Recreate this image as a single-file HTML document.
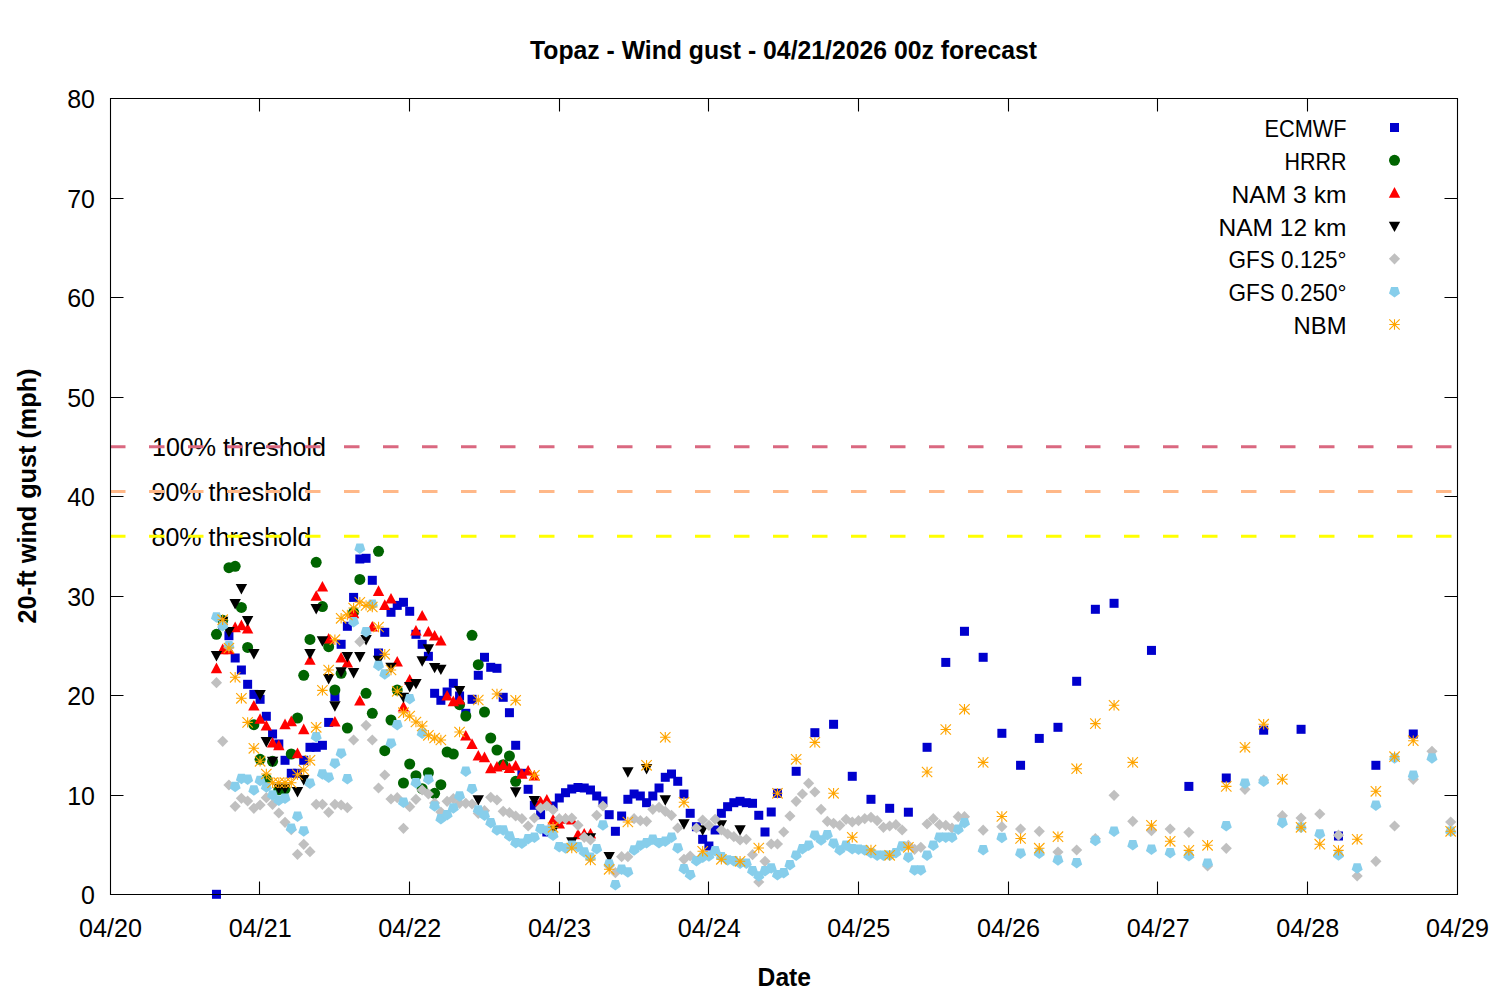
<!DOCTYPE html><html><head><meta charset="utf-8"><style>html,body{margin:0;padding:0;background:#fff;}svg{display:block;}text{font-family:"Liberation Sans",sans-serif;}</style></head><body>
<svg width="1500" height="1000" viewBox="0 0 1500 1000">
<rect width="1500" height="1000" fill="#fff"/>
<g font-size="25" fill="#000">
<text x="95" y="904.3" text-anchor="end">0</text>
<text x="95" y="804.8" text-anchor="end">10</text>
<text x="95" y="705.3" text-anchor="end">20</text>
<text x="95" y="605.8" text-anchor="end">30</text>
<text x="95" y="506.3" text-anchor="end">40</text>
<text x="95" y="406.8" text-anchor="end">50</text>
<text x="95" y="307.3" text-anchor="end">60</text>
<text x="95" y="207.8" text-anchor="end">70</text>
<text x="95" y="108.3" text-anchor="end">80</text>
<text x="110.5" y="937.3" text-anchor="middle" textLength="63" lengthAdjust="spacingAndGlyphs">04/20</text>
<text x="260.2" y="937.3" text-anchor="middle" textLength="63" lengthAdjust="spacingAndGlyphs">04/21</text>
<text x="409.8" y="937.3" text-anchor="middle" textLength="63" lengthAdjust="spacingAndGlyphs">04/22</text>
<text x="559.5" y="937.3" text-anchor="middle" textLength="63" lengthAdjust="spacingAndGlyphs">04/23</text>
<text x="709.2" y="937.3" text-anchor="middle" textLength="63" lengthAdjust="spacingAndGlyphs">04/24</text>
<text x="858.8" y="937.3" text-anchor="middle" textLength="63" lengthAdjust="spacingAndGlyphs">04/25</text>
<text x="1008.5" y="937.3" text-anchor="middle" textLength="63" lengthAdjust="spacingAndGlyphs">04/26</text>
<text x="1158.2" y="937.3" text-anchor="middle" textLength="63" lengthAdjust="spacingAndGlyphs">04/27</text>
<text x="1307.8" y="937.3" text-anchor="middle" textLength="63" lengthAdjust="spacingAndGlyphs">04/28</text>
<text x="1457.5" y="937.3" text-anchor="middle" textLength="63" lengthAdjust="spacingAndGlyphs">04/29</text>
</g>
<text x="783.5" y="58.6" font-size="25" font-weight="bold" text-anchor="middle" textLength="507" lengthAdjust="spacingAndGlyphs">Topaz - Wind gust - 04/21/2026 00z forecast</text>
<text x="784.3" y="985.6" font-size="25" font-weight="bold" text-anchor="middle" textLength="53.4" lengthAdjust="spacingAndGlyphs">Date</text>
<text transform="translate(36,496) rotate(-90)" x="0" y="0" font-size="25" font-weight="bold" text-anchor="middle" textLength="255" lengthAdjust="spacingAndGlyphs">20-ft wind gust (mph)</text>
<g font-size="25" fill="#000">
<text x="152" y="455.8" textLength="174" lengthAdjust="spacingAndGlyphs">100% threshold</text>
<text x="151.5" y="500.6" textLength="160" lengthAdjust="spacingAndGlyphs">90% threshold</text>
<text x="151.5" y="545.6" textLength="160" lengthAdjust="spacingAndGlyphs">80% threshold</text>
</g>
<line x1="110" y1="446.75" x2="1457" y2="446.75" stroke="#da6880" stroke-width="3" stroke-dasharray="15.5 23.5"/>
<line x1="110" y1="491.53" x2="1457" y2="491.53" stroke="#ffb888" stroke-width="3" stroke-dasharray="15.5 23.5"/>
<line x1="110" y1="536.30" x2="1457" y2="536.30" stroke="#ffff00" stroke-width="3" stroke-dasharray="15.5 23.5"/>
<g fill="#0000cd">
<rect x="211.97" y="889.80" width="9" height="9"/>
<rect x="218.20" y="620.50" width="9" height="9"/>
<rect x="224.43" y="631.20" width="9" height="9"/>
<rect x="230.67" y="653.50" width="9" height="9"/>
<rect x="236.90" y="665.50" width="9" height="9"/>
<rect x="243.13" y="679.80" width="9" height="9"/>
<rect x="249.37" y="689.90" width="9" height="9"/>
<rect x="255.60" y="694.80" width="9" height="9"/>
<rect x="261.83" y="711.80" width="9" height="9"/>
<rect x="268.07" y="729.50" width="9" height="9"/>
<rect x="274.30" y="739.50" width="9" height="9"/>
<rect x="280.53" y="755.80" width="9" height="9"/>
<rect x="286.77" y="768.80" width="9" height="9"/>
<rect x="293.00" y="768.80" width="9" height="9"/>
<rect x="299.23" y="755.80" width="9" height="9"/>
<rect x="305.47" y="742.80" width="9" height="9"/>
<rect x="311.70" y="742.80" width="9" height="9"/>
<rect x="317.93" y="740.80" width="9" height="9"/>
<rect x="324.17" y="717.90" width="9" height="9"/>
<rect x="330.40" y="692.20" width="9" height="9"/>
<rect x="336.63" y="639.80" width="9" height="9"/>
<rect x="342.87" y="621.80" width="9" height="9"/>
<rect x="349.10" y="592.90" width="9" height="9"/>
<rect x="355.33" y="554.50" width="9" height="9"/>
<rect x="361.57" y="553.80" width="9" height="9"/>
<rect x="367.80" y="575.80" width="9" height="9"/>
<rect x="374.03" y="648.50" width="9" height="9"/>
<rect x="380.27" y="627.80" width="9" height="9"/>
<rect x="386.50" y="607.80" width="9" height="9"/>
<rect x="392.73" y="600.90" width="9" height="9"/>
<rect x="398.97" y="597.80" width="9" height="9"/>
<rect x="405.20" y="606.80" width="9" height="9"/>
<rect x="411.43" y="629.80" width="9" height="9"/>
<rect x="417.67" y="639.80" width="9" height="9"/>
<rect x="423.90" y="651.80" width="9" height="9"/>
<rect x="430.13" y="688.80" width="9" height="9"/>
<rect x="436.37" y="695.80" width="9" height="9"/>
<rect x="442.60" y="687.50" width="9" height="9"/>
<rect x="448.83" y="678.80" width="9" height="9"/>
<rect x="455.07" y="691.50" width="9" height="9"/>
<rect x="461.30" y="708.80" width="9" height="9"/>
<rect x="467.53" y="694.80" width="9" height="9"/>
<rect x="473.77" y="670.80" width="9" height="9"/>
<rect x="480.00" y="652.80" width="9" height="9"/>
<rect x="486.23" y="662.80" width="9" height="9"/>
<rect x="492.47" y="663.80" width="9" height="9"/>
<rect x="498.70" y="692.80" width="9" height="9"/>
<rect x="504.93" y="708.20" width="9" height="9"/>
<rect x="511.17" y="740.80" width="9" height="9"/>
<rect x="517.40" y="768.80" width="9" height="9"/>
<rect x="523.63" y="784.80" width="9" height="9"/>
<rect x="529.87" y="800.80" width="9" height="9"/>
<rect x="536.10" y="810.20" width="9" height="9"/>
<rect x="542.33" y="827.50" width="9" height="9"/>
<rect x="548.57" y="801.50" width="9" height="9"/>
<rect x="554.80" y="793.50" width="9" height="9"/>
<rect x="561.03" y="788.20" width="9" height="9"/>
<rect x="567.27" y="784.50" width="9" height="9"/>
<rect x="573.50" y="783.00" width="9" height="9"/>
<rect x="579.73" y="783.50" width="9" height="9"/>
<rect x="585.97" y="785.50" width="9" height="9"/>
<rect x="592.20" y="791.50" width="9" height="9"/>
<rect x="598.43" y="796.50" width="9" height="9"/>
<rect x="604.67" y="810.20" width="9" height="9"/>
<rect x="610.90" y="826.80" width="9" height="9"/>
<rect x="617.13" y="811.50" width="9" height="9"/>
<rect x="623.37" y="794.80" width="9" height="9"/>
<rect x="629.60" y="789.50" width="9" height="9"/>
<rect x="635.83" y="791.50" width="9" height="9"/>
<rect x="642.07" y="798.20" width="9" height="9"/>
<rect x="648.30" y="791.50" width="9" height="9"/>
<rect x="654.53" y="783.50" width="9" height="9"/>
<rect x="660.77" y="772.80" width="9" height="9"/>
<rect x="667.00" y="769.50" width="9" height="9"/>
<rect x="673.23" y="776.80" width="9" height="9"/>
<rect x="679.47" y="789.50" width="9" height="9"/>
<rect x="685.70" y="808.80" width="9" height="9"/>
<rect x="691.93" y="822.20" width="9" height="9"/>
<rect x="698.17" y="834.80" width="9" height="9"/>
<rect x="704.40" y="841.50" width="9" height="9"/>
<rect x="710.63" y="825.50" width="9" height="9"/>
<rect x="716.87" y="808.80" width="9" height="9"/>
<rect x="723.10" y="802.20" width="9" height="9"/>
<rect x="729.33" y="798.20" width="9" height="9"/>
<rect x="735.57" y="796.80" width="9" height="9"/>
<rect x="741.80" y="798.20" width="9" height="9"/>
<rect x="748.03" y="798.80" width="9" height="9"/>
<rect x="754.27" y="810.80" width="9" height="9"/>
<rect x="760.50" y="827.50" width="9" height="9"/>
<rect x="766.73" y="807.50" width="9" height="9"/>
<rect x="772.97" y="788.80" width="9" height="9"/>
<rect x="791.67" y="766.80" width="9" height="9"/>
<rect x="810.37" y="728.20" width="9" height="9"/>
<rect x="829.07" y="719.80" width="9" height="9"/>
<rect x="847.77" y="771.80" width="9" height="9"/>
<rect x="866.47" y="794.80" width="9" height="9"/>
<rect x="885.17" y="803.80" width="9" height="9"/>
<rect x="903.87" y="807.70" width="9" height="9"/>
<rect x="922.57" y="742.80" width="9" height="9"/>
<rect x="941.27" y="657.90" width="9" height="9"/>
<rect x="959.97" y="626.80" width="9" height="9"/>
<rect x="978.67" y="652.80" width="9" height="9"/>
<rect x="997.37" y="728.80" width="9" height="9"/>
<rect x="1016.07" y="760.80" width="9" height="9"/>
<rect x="1034.77" y="733.90" width="9" height="9"/>
<rect x="1053.47" y="722.80" width="9" height="9"/>
<rect x="1072.17" y="676.80" width="9" height="9"/>
<rect x="1090.87" y="604.80" width="9" height="9"/>
<rect x="1109.57" y="598.80" width="9" height="9"/>
<rect x="1146.97" y="645.90" width="9" height="9"/>
<rect x="1184.37" y="781.90" width="9" height="9"/>
<rect x="1221.77" y="773.50" width="9" height="9"/>
<rect x="1259.17" y="725.70" width="9" height="9"/>
<rect x="1296.57" y="724.80" width="9" height="9"/>
<rect x="1333.97" y="831.50" width="9" height="9"/>
<rect x="1371.37" y="760.80" width="9" height="9"/>
<rect x="1408.77" y="729.50" width="9" height="9"/>
</g>
<g fill="#006400">
<circle cx="216.47" cy="634.30" r="5.5"/>
<circle cx="222.70" cy="620.30" r="5.5"/>
<circle cx="228.93" cy="567.70" r="5.5"/>
<circle cx="235.17" cy="566.30" r="5.5"/>
<circle cx="241.40" cy="607.40" r="5.5"/>
<circle cx="247.63" cy="647.40" r="5.5"/>
<circle cx="253.87" cy="724.70" r="5.5"/>
<circle cx="260.10" cy="759.30" r="5.5"/>
<circle cx="266.33" cy="779.00" r="5.5"/>
<circle cx="272.57" cy="761.30" r="5.5"/>
<circle cx="278.80" cy="789.70" r="5.5"/>
<circle cx="285.03" cy="789.00" r="5.5"/>
<circle cx="291.27" cy="754.00" r="5.5"/>
<circle cx="297.50" cy="718.00" r="5.5"/>
<circle cx="303.73" cy="675.30" r="5.5"/>
<circle cx="309.97" cy="639.40" r="5.5"/>
<circle cx="316.20" cy="562.30" r="5.5"/>
<circle cx="322.43" cy="606.60" r="5.5"/>
<circle cx="328.67" cy="646.70" r="5.5"/>
<circle cx="334.90" cy="690.00" r="5.5"/>
<circle cx="341.13" cy="673.30" r="5.5"/>
<circle cx="347.37" cy="728.00" r="5.5"/>
<circle cx="353.60" cy="612.30" r="5.5"/>
<circle cx="359.83" cy="579.40" r="5.5"/>
<circle cx="366.07" cy="693.30" r="5.5"/>
<circle cx="372.30" cy="713.30" r="5.5"/>
<circle cx="378.53" cy="551.30" r="5.5"/>
<circle cx="384.77" cy="750.70" r="5.5"/>
<circle cx="391.00" cy="720.00" r="5.5"/>
<circle cx="397.23" cy="690.00" r="5.5"/>
<circle cx="403.47" cy="783.00" r="5.5"/>
<circle cx="409.70" cy="764.00" r="5.5"/>
<circle cx="415.93" cy="775.70" r="5.5"/>
<circle cx="422.17" cy="788.70" r="5.5"/>
<circle cx="428.40" cy="772.70" r="5.5"/>
<circle cx="434.63" cy="793.30" r="5.5"/>
<circle cx="440.87" cy="784.70" r="5.5"/>
<circle cx="447.10" cy="752.00" r="5.5"/>
<circle cx="453.33" cy="754.00" r="5.5"/>
<circle cx="459.57" cy="704.70" r="5.5"/>
<circle cx="465.80" cy="716.00" r="5.5"/>
<circle cx="472.03" cy="635.30" r="5.5"/>
<circle cx="478.27" cy="664.70" r="5.5"/>
<circle cx="484.50" cy="712.00" r="5.5"/>
<circle cx="490.73" cy="738.00" r="5.5"/>
<circle cx="496.97" cy="750.00" r="5.5"/>
<circle cx="503.20" cy="764.70" r="5.5"/>
<circle cx="509.43" cy="756.00" r="5.5"/>
<circle cx="515.67" cy="781.30" r="5.5"/>
</g>
<g fill="#ff0000">
<path d="M216.47 662.60L222.17 673.20H210.77Z"/>
<path d="M222.70 643.60L228.40 654.20H217.00Z"/>
<path d="M228.93 643.60L234.63 654.20H223.23Z"/>
<path d="M235.17 621.60L240.87 632.20H229.47Z"/>
<path d="M241.40 619.60L247.10 630.20H235.70Z"/>
<path d="M247.63 622.90L253.33 633.50H241.93Z"/>
<path d="M253.87 699.90L259.57 710.50H248.17Z"/>
<path d="M260.10 713.20L265.80 723.80H254.40Z"/>
<path d="M266.33 719.90L272.03 730.50H260.63Z"/>
<path d="M272.57 736.90L278.27 747.50H266.87Z"/>
<path d="M278.80 739.60L284.50 750.20H273.10Z"/>
<path d="M285.03 718.60L290.73 729.20H279.33Z"/>
<path d="M291.27 715.60L296.97 726.20H285.57Z"/>
<path d="M297.50 747.60L303.20 758.20H291.80Z"/>
<path d="M303.73 723.60L309.43 734.20H298.03Z"/>
<path d="M309.97 654.20L315.67 664.80H304.27Z"/>
<path d="M316.20 590.20L321.90 600.80H310.50Z"/>
<path d="M322.43 580.90L328.13 591.50H316.73Z"/>
<path d="M328.67 632.90L334.37 643.50H322.97Z"/>
<path d="M334.90 715.90L340.60 726.50H329.20Z"/>
<path d="M341.13 651.90L346.83 662.50H335.43Z"/>
<path d="M347.37 656.90L353.07 667.50H341.67Z"/>
<path d="M353.60 607.60L359.30 618.20H347.90Z"/>
<path d="M359.83 694.90L365.53 705.50H354.13Z"/>
<path d="M372.30 620.90L378.00 631.50H366.60Z"/>
<path d="M378.53 585.30L384.23 595.90H372.83Z"/>
<path d="M384.77 599.30L390.47 609.90H379.07Z"/>
<path d="M391.00 592.90L396.70 603.50H385.30Z"/>
<path d="M397.23 655.90L402.93 666.50H391.53Z"/>
<path d="M403.47 700.90L409.17 711.50H397.77Z"/>
<path d="M409.70 673.90L415.40 684.50H404.00Z"/>
<path d="M415.93 624.90L421.63 635.50H410.23Z"/>
<path d="M422.17 609.90L427.87 620.50H416.47Z"/>
<path d="M428.40 625.90L434.10 636.50H422.70Z"/>
<path d="M434.63 629.90L440.33 640.50H428.93Z"/>
<path d="M440.87 634.90L446.57 645.50H435.17Z"/>
<path d="M447.10 689.90L452.80 700.50H441.40Z"/>
<path d="M453.33 695.60L459.03 706.20H447.63Z"/>
<path d="M459.57 693.90L465.27 704.50H453.87Z"/>
<path d="M465.80 729.90L471.50 740.50H460.10Z"/>
<path d="M472.03 738.30L477.73 748.90H466.33Z"/>
<path d="M478.27 749.90L483.97 760.50H472.57Z"/>
<path d="M484.50 751.60L490.20 762.20H478.80Z"/>
<path d="M490.73 762.60L496.43 773.20H485.03Z"/>
<path d="M496.97 760.90L502.67 771.50H491.27Z"/>
<path d="M503.20 759.20L508.90 769.80H497.50Z"/>
<path d="M509.43 762.30L515.13 772.90H503.73Z"/>
<path d="M515.67 759.90L521.37 770.50H509.97Z"/>
<path d="M521.90 768.20L527.60 778.80H516.20Z"/>
<path d="M528.13 764.90L533.83 775.50H522.43Z"/>
<path d="M534.37 769.90L540.07 780.50H528.67Z"/>
<path d="M540.60 795.90L546.30 806.50H534.90Z"/>
<path d="M546.83 793.90L552.53 804.50H541.13Z"/>
<path d="M553.07 813.90L558.77 824.50H547.37Z"/>
<path d="M559.30 817.90L565.00 828.50H553.60Z"/>
<path d="M565.53 813.20L571.23 823.80H559.83Z"/>
<path d="M571.77 813.90L577.47 824.50H566.07Z"/>
<path d="M578.00 828.60L583.70 839.20H572.30Z"/>
<path d="M584.23 827.90L589.93 838.50H578.53Z"/>
<path d="M590.47 827.90L596.17 838.50H584.77Z"/>
</g>
<g fill="#000000">
<path d="M216.47 661.40L222.17 651.00H210.77Z"/>
<path d="M222.70 627.10L228.40 616.70H217.00Z"/>
<path d="M228.93 637.40L234.63 627.00H223.23Z"/>
<path d="M235.17 609.40L240.87 599.00H229.47Z"/>
<path d="M241.40 594.40L247.10 584.00H235.70Z"/>
<path d="M247.63 626.40L253.33 616.00H241.93Z"/>
<path d="M253.87 659.40L259.57 649.00H248.17Z"/>
<path d="M260.10 700.40L265.80 690.00H254.40Z"/>
<path d="M266.33 747.40L272.03 737.00H260.63Z"/>
<path d="M272.57 767.10L278.27 756.70H266.87Z"/>
<path d="M278.80 794.10L284.50 783.70H273.10Z"/>
<path d="M285.03 794.10L290.73 783.70H279.33Z"/>
<path d="M297.50 797.40L303.20 787.00H291.80Z"/>
<path d="M303.73 785.40L309.43 775.00H298.03Z"/>
<path d="M309.97 659.40L315.67 649.00H304.27Z"/>
<path d="M316.20 614.40L321.90 604.00H310.50Z"/>
<path d="M322.43 646.70L328.13 636.30H316.73Z"/>
<path d="M328.67 684.40L334.37 674.00H322.97Z"/>
<path d="M334.90 711.70L340.60 701.30H329.20Z"/>
<path d="M341.13 677.70L346.83 667.30H335.43Z"/>
<path d="M347.37 662.40L353.07 652.00H341.67Z"/>
<path d="M353.60 678.40L359.30 668.00H347.90Z"/>
<path d="M359.83 662.40L365.53 652.00H354.13Z"/>
<path d="M366.07 645.40L371.77 635.00H360.37Z"/>
<path d="M378.53 666.10L384.23 655.70H372.83Z"/>
<path d="M391.00 673.10L396.70 662.70H385.30Z"/>
<path d="M403.47 703.10L409.17 692.70H397.77Z"/>
<path d="M409.70 692.40L415.40 682.00H404.00Z"/>
<path d="M415.93 689.30L421.63 678.90H410.23Z"/>
<path d="M422.17 666.70L427.87 656.30H416.47Z"/>
<path d="M428.40 654.70L434.10 644.30H422.70Z"/>
<path d="M434.63 673.30L440.33 662.90H428.93Z"/>
<path d="M440.87 675.10L446.57 664.70H435.17Z"/>
<path d="M459.57 696.40L465.27 686.00H453.87Z"/>
<path d="M478.27 805.70L483.97 795.30H472.57Z"/>
<path d="M515.67 797.70L521.37 787.30H509.97Z"/>
<path d="M534.37 806.40L540.07 796.00H528.67Z"/>
<path d="M553.07 836.10L558.77 825.70H547.37Z"/>
<path d="M571.77 847.70L577.47 837.30H566.07Z"/>
<path d="M590.47 843.70L596.17 833.30H584.77Z"/>
<path d="M609.17 862.40L614.87 852.00H603.47Z"/>
<path d="M627.87 777.70L633.57 767.30H622.17Z"/>
<path d="M646.57 774.40L652.27 764.00H640.87Z"/>
<path d="M665.27 805.70L670.97 795.30H659.57Z"/>
<path d="M683.97 829.70L689.67 819.30H678.27Z"/>
<path d="M702.67 835.70L708.37 825.30H696.97Z"/>
<path d="M721.37 830.60L727.07 820.20H715.67Z"/>
<path d="M740.07 835.70L745.77 825.30H734.37Z"/>
</g>
<g fill="#c0c0c0">
<path d="M216.47 677.10L222.07 682.70L216.47 688.30L210.87 682.70Z"/>
<path d="M222.70 735.70L228.30 741.30L222.70 746.90L217.10 741.30Z"/>
<path d="M228.93 779.40L234.53 785.00L228.93 790.60L223.33 785.00Z"/>
<path d="M235.17 800.70L240.77 806.30L235.17 811.90L229.57 806.30Z"/>
<path d="M241.40 792.70L247.00 798.30L241.40 803.90L235.80 798.30Z"/>
<path d="M247.63 795.40L253.23 801.00L247.63 806.60L242.03 801.00Z"/>
<path d="M253.87 802.70L259.47 808.30L253.87 813.90L248.27 808.30Z"/>
<path d="M260.10 799.40L265.70 805.00L260.10 810.60L254.50 805.00Z"/>
<path d="M266.33 792.10L271.93 797.70L266.33 803.30L260.73 797.70Z"/>
<path d="M272.57 798.70L278.17 804.30L272.57 809.90L266.97 804.30Z"/>
<path d="M278.80 807.40L284.40 813.00L278.80 818.60L273.20 813.00Z"/>
<path d="M285.03 816.70L290.63 822.30L285.03 827.90L279.43 822.30Z"/>
<path d="M291.27 824.10L296.87 829.70L291.27 835.30L285.67 829.70Z"/>
<path d="M297.50 848.70L303.10 854.30L297.50 859.90L291.90 854.30Z"/>
<path d="M303.73 838.70L309.33 844.30L303.73 849.90L298.13 844.30Z"/>
<path d="M309.97 846.10L315.57 851.70L309.97 857.30L304.37 851.70Z"/>
<path d="M316.20 798.70L321.80 804.30L316.20 809.90L310.60 804.30Z"/>
<path d="M322.43 798.70L328.03 804.30L322.43 809.90L316.83 804.30Z"/>
<path d="M328.67 806.70L334.27 812.30L328.67 817.90L323.07 812.30Z"/>
<path d="M334.90 798.70L340.50 804.30L334.90 809.90L329.30 804.30Z"/>
<path d="M341.13 799.40L346.73 805.00L341.13 810.60L335.53 805.00Z"/>
<path d="M347.37 802.10L352.97 807.70L347.37 813.30L341.77 807.70Z"/>
<path d="M353.60 734.40L359.20 740.00L353.60 745.60L348.00 740.00Z"/>
<path d="M359.83 636.10L365.43 641.70L359.83 647.30L354.23 641.70Z"/>
<path d="M366.07 719.70L371.67 725.30L366.07 730.90L360.47 725.30Z"/>
<path d="M372.30 734.40L377.90 740.00L372.30 745.60L366.70 740.00Z"/>
<path d="M378.53 782.40L384.13 788.00L378.53 793.60L372.93 788.00Z"/>
<path d="M384.77 769.40L390.37 775.00L384.77 780.60L379.17 775.00Z"/>
<path d="M391.00 793.40L396.60 799.00L391.00 804.60L385.40 799.00Z"/>
<path d="M397.23 792.10L402.83 797.70L397.23 803.30L391.63 797.70Z"/>
<path d="M403.47 822.70L409.07 828.30L403.47 833.90L397.87 828.30Z"/>
<path d="M409.70 801.10L415.30 806.70L409.70 812.30L404.10 806.70Z"/>
<path d="M415.93 793.70L421.53 799.30L415.93 804.90L410.33 799.30Z"/>
<path d="M422.17 784.40L427.77 790.00L422.17 795.60L416.57 790.00Z"/>
<path d="M428.40 788.40L434.00 794.00L428.40 799.60L422.80 794.00Z"/>
<path d="M434.63 797.40L440.23 803.00L434.63 808.60L429.03 803.00Z"/>
<path d="M440.87 806.40L446.47 812.00L440.87 817.60L435.27 812.00Z"/>
<path d="M447.10 795.70L452.70 801.30L447.10 806.90L441.50 801.30Z"/>
<path d="M453.33 793.10L458.93 798.70L453.33 804.30L447.73 798.70Z"/>
<path d="M459.57 797.70L465.17 803.30L459.57 808.90L453.97 803.30Z"/>
<path d="M465.80 797.70L471.40 803.30L465.80 808.90L460.20 803.30Z"/>
<path d="M472.03 798.40L477.63 804.00L472.03 809.60L466.43 804.00Z"/>
<path d="M478.27 807.70L483.87 813.30L478.27 818.90L472.67 813.30Z"/>
<path d="M484.50 805.10L490.10 810.70L484.50 816.30L478.90 810.70Z"/>
<path d="M490.73 791.70L496.33 797.30L490.73 802.90L485.13 797.30Z"/>
<path d="M496.97 794.40L502.57 800.00L496.97 805.60L491.37 800.00Z"/>
<path d="M503.20 805.70L508.80 811.30L503.20 816.90L497.60 811.30Z"/>
<path d="M509.43 807.10L515.03 812.70L509.43 818.30L503.83 812.70Z"/>
<path d="M515.67 810.40L521.27 816.00L515.67 821.60L510.07 816.00Z"/>
<path d="M521.90 813.10L527.50 818.70L521.90 824.30L516.30 818.70Z"/>
<path d="M528.13 820.40L533.73 826.00L528.13 831.60L522.53 826.00Z"/>
<path d="M534.37 812.40L539.97 818.00L534.37 823.60L528.77 818.00Z"/>
<path d="M540.60 802.40L546.20 808.00L540.60 813.60L535.00 808.00Z"/>
<path d="M546.83 800.40L552.43 806.00L546.83 811.60L541.23 806.00Z"/>
<path d="M553.07 804.40L558.67 810.00L553.07 815.60L547.47 810.00Z"/>
<path d="M559.30 813.10L564.90 818.70L559.30 824.30L553.70 818.70Z"/>
<path d="M565.53 813.10L571.13 818.70L565.53 824.30L559.93 818.70Z"/>
<path d="M571.77 812.40L577.37 818.00L571.77 823.60L566.17 818.00Z"/>
<path d="M578.00 819.70L583.60 825.30L578.00 830.90L572.40 825.30Z"/>
<path d="M584.23 831.70L589.83 837.30L584.23 842.90L578.63 837.30Z"/>
<path d="M590.47 834.40L596.07 840.00L590.47 845.60L584.87 840.00Z"/>
<path d="M596.70 809.70L602.30 815.30L596.70 820.90L591.10 815.30Z"/>
<path d="M602.93 800.40L608.53 806.00L602.93 811.60L597.33 806.00Z"/>
<path d="M609.17 860.40L614.77 866.00L609.17 871.60L603.57 866.00Z"/>
<path d="M615.40 867.10L621.00 872.70L615.40 878.30L609.80 872.70Z"/>
<path d="M621.63 851.10L627.23 856.70L621.63 862.30L616.03 856.70Z"/>
<path d="M627.87 851.10L633.47 856.70L627.87 862.30L622.27 856.70Z"/>
<path d="M634.10 813.10L639.70 818.70L634.10 824.30L628.50 818.70Z"/>
<path d="M640.33 815.10L645.93 820.70L640.33 826.30L634.73 820.70Z"/>
<path d="M646.57 815.70L652.17 821.30L646.57 826.90L640.97 821.30Z"/>
<path d="M652.80 803.70L658.40 809.30L652.80 814.90L647.20 809.30Z"/>
<path d="M659.03 801.70L664.63 807.30L659.03 812.90L653.43 807.30Z"/>
<path d="M665.27 805.70L670.87 811.30L665.27 816.90L659.67 811.30Z"/>
<path d="M671.50 809.70L677.10 815.30L671.50 820.90L665.90 815.30Z"/>
<path d="M677.73 822.40L683.33 828.00L677.73 833.60L672.13 828.00Z"/>
<path d="M683.97 853.70L689.57 859.30L683.97 864.90L678.37 859.30Z"/>
<path d="M690.20 850.40L695.80 856.00L690.20 861.60L684.60 856.00Z"/>
<path d="M696.43 822.40L702.03 828.00L696.43 833.60L690.83 828.00Z"/>
<path d="M702.67 814.40L708.27 820.00L702.67 825.60L697.07 820.00Z"/>
<path d="M708.90 819.70L714.50 825.30L708.90 830.90L703.30 825.30Z"/>
<path d="M715.13 813.70L720.73 819.30L715.13 824.90L709.53 819.30Z"/>
<path d="M721.37 824.40L726.97 830.00L721.37 835.60L715.77 830.00Z"/>
<path d="M727.60 828.40L733.20 834.00L727.60 839.60L722.00 834.00Z"/>
<path d="M733.83 831.10L739.43 836.70L733.83 842.30L728.23 836.70Z"/>
<path d="M740.07 834.40L745.67 840.00L740.07 845.60L734.47 840.00Z"/>
<path d="M746.30 833.70L751.90 839.30L746.30 844.90L740.70 839.30Z"/>
<path d="M752.53 849.10L758.13 854.70L752.53 860.30L746.93 854.70Z"/>
<path d="M758.77 876.40L764.37 882.00L758.77 887.60L753.17 882.00Z"/>
<path d="M765.00 855.70L770.60 861.30L765.00 866.90L759.40 861.30Z"/>
<path d="M771.23 838.40L776.83 844.00L771.23 849.60L765.63 844.00Z"/>
<path d="M777.47 838.40L783.07 844.00L777.47 849.60L771.87 844.00Z"/>
<path d="M783.70 826.40L789.30 832.00L783.70 837.60L778.10 832.00Z"/>
<path d="M789.93 810.40L795.53 816.00L789.93 821.60L784.33 816.00Z"/>
<path d="M796.17 795.70L801.77 801.30L796.17 806.90L790.57 801.30Z"/>
<path d="M802.40 788.40L808.00 794.00L802.40 799.60L796.80 794.00Z"/>
<path d="M808.63 777.70L814.23 783.30L808.63 788.90L803.03 783.30Z"/>
<path d="M814.87 786.40L820.47 792.00L814.87 797.60L809.27 792.00Z"/>
<path d="M821.10 803.70L826.70 809.30L821.10 814.90L815.50 809.30Z"/>
<path d="M827.33 815.70L832.93 821.30L827.33 826.90L821.73 821.30Z"/>
<path d="M833.57 817.70L839.17 823.30L833.57 828.90L827.97 823.30Z"/>
<path d="M839.80 819.70L845.40 825.30L839.80 830.90L834.20 825.30Z"/>
<path d="M846.03 813.70L851.63 819.30L846.03 824.90L840.43 819.30Z"/>
<path d="M852.27 816.40L857.87 822.00L852.27 827.60L846.67 822.00Z"/>
<path d="M858.50 815.10L864.10 820.70L858.50 826.30L852.90 820.70Z"/>
<path d="M864.73 813.10L870.33 818.70L864.73 824.30L859.13 818.70Z"/>
<path d="M870.97 811.70L876.57 817.30L870.97 822.90L865.37 817.30Z"/>
<path d="M877.20 815.10L882.80 820.70L877.20 826.30L871.60 820.70Z"/>
<path d="M883.43 821.70L889.03 827.30L883.43 832.90L877.83 827.30Z"/>
<path d="M889.67 820.40L895.27 826.00L889.67 831.60L884.07 826.00Z"/>
<path d="M895.90 819.10L901.50 824.70L895.90 830.30L890.30 824.70Z"/>
<path d="M902.13 824.40L907.73 830.00L902.13 835.60L896.53 830.00Z"/>
<path d="M908.37 839.70L913.97 845.30L908.37 850.90L902.77 845.30Z"/>
<path d="M914.60 843.70L920.20 849.30L914.60 854.90L909.00 849.30Z"/>
<path d="M920.83 841.70L926.43 847.30L920.83 852.90L915.23 847.30Z"/>
<path d="M927.07 818.40L932.67 824.00L927.07 829.60L921.47 824.00Z"/>
<path d="M933.30 813.10L938.90 818.70L933.30 824.30L927.70 818.70Z"/>
<path d="M939.53 819.10L945.13 824.70L939.53 830.30L933.93 824.70Z"/>
<path d="M945.77 819.70L951.37 825.30L945.77 830.90L940.17 825.30Z"/>
<path d="M952.00 822.40L957.60 828.00L952.00 833.60L946.40 828.00Z"/>
<path d="M958.23 811.10L963.83 816.70L958.23 822.30L952.63 816.70Z"/>
<path d="M964.47 811.10L970.07 816.70L964.47 822.30L958.87 816.70Z"/>
<path d="M983.17 824.60L988.77 830.20L983.17 835.80L977.57 830.20Z"/>
<path d="M1001.87 821.10L1007.47 826.70L1001.87 832.30L996.27 826.70Z"/>
<path d="M1020.57 823.40L1026.17 829.00L1020.57 834.60L1014.97 829.00Z"/>
<path d="M1039.27 825.70L1044.87 831.30L1039.27 836.90L1033.67 831.30Z"/>
<path d="M1057.97 846.40L1063.57 852.00L1057.97 857.60L1052.37 852.00Z"/>
<path d="M1076.67 844.40L1082.27 850.00L1076.67 855.60L1071.07 850.00Z"/>
<path d="M1095.37 833.10L1100.97 838.70L1095.37 844.30L1089.77 838.70Z"/>
<path d="M1114.07 789.70L1119.67 795.30L1114.07 800.90L1108.47 795.30Z"/>
<path d="M1132.77 815.70L1138.37 821.30L1132.77 826.90L1127.17 821.30Z"/>
<path d="M1151.47 825.10L1157.07 830.70L1151.47 836.30L1145.87 830.70Z"/>
<path d="M1170.17 823.40L1175.77 829.00L1170.17 834.60L1164.57 829.00Z"/>
<path d="M1188.87 826.70L1194.47 832.30L1188.87 837.90L1183.27 832.30Z"/>
<path d="M1207.57 860.40L1213.17 866.00L1207.57 871.60L1201.97 866.00Z"/>
<path d="M1226.27 842.70L1231.87 848.30L1226.27 853.90L1220.67 848.30Z"/>
<path d="M1244.97 783.70L1250.57 789.30L1244.97 794.90L1239.37 789.30Z"/>
<path d="M1263.67 774.40L1269.27 780.00L1263.67 785.60L1258.07 780.00Z"/>
<path d="M1282.37 810.10L1287.97 815.70L1282.37 821.30L1276.77 815.70Z"/>
<path d="M1301.07 812.40L1306.67 818.00L1301.07 823.60L1295.47 818.00Z"/>
<path d="M1319.77 808.40L1325.37 814.00L1319.77 819.60L1314.17 814.00Z"/>
<path d="M1338.47 829.60L1344.07 835.20L1338.47 840.80L1332.87 835.20Z"/>
<path d="M1357.17 870.40L1362.77 876.00L1357.17 881.60L1351.57 876.00Z"/>
<path d="M1375.87 855.70L1381.47 861.30L1375.87 866.90L1370.27 861.30Z"/>
<path d="M1394.57 820.40L1400.17 826.00L1394.57 831.60L1388.97 826.00Z"/>
<path d="M1413.27 773.70L1418.87 779.30L1413.27 784.90L1407.67 779.30Z"/>
<path d="M1431.97 745.70L1437.57 751.30L1431.97 756.90L1426.37 751.30Z"/>
<path d="M1450.67 816.40L1456.27 822.00L1450.67 827.60L1445.07 822.00Z"/>
</g>
<g fill="#87ceeb">
<path d="M216.47 622.80L210.95 618.79L213.06 612.31L219.88 612.31L221.98 618.79Z"/>
<path d="M222.70 631.50L217.18 627.49L219.29 621.01L226.11 621.01L228.22 627.49Z"/>
<path d="M228.93 651.50L223.42 647.49L225.52 641.01L232.34 641.01L234.45 647.49Z"/>
<path d="M235.17 792.30L229.65 788.29L231.76 781.81L238.58 781.81L240.68 788.29Z"/>
<path d="M241.40 784.30L235.88 780.29L237.99 773.81L244.81 773.81L246.92 780.29Z"/>
<path d="M247.63 785.10L242.12 781.09L244.22 774.61L251.04 774.61L253.15 781.09Z"/>
<path d="M253.87 795.80L248.35 791.79L250.46 785.31L257.28 785.31L259.38 791.79Z"/>
<path d="M260.10 786.30L254.58 782.29L256.69 775.81L263.51 775.81L265.62 782.29Z"/>
<path d="M266.33 792.80L260.82 788.79L262.92 782.31L269.74 782.31L271.85 788.79Z"/>
<path d="M272.57 800.80L267.05 796.79L269.16 790.31L275.98 790.31L278.08 796.79Z"/>
<path d="M278.80 806.10L273.28 802.09L275.39 795.61L282.21 795.61L284.32 802.09Z"/>
<path d="M285.03 804.10L279.52 800.09L281.62 793.61L288.44 793.61L290.55 800.09Z"/>
<path d="M291.27 834.10L285.75 830.09L287.86 823.61L294.68 823.61L296.78 830.09Z"/>
<path d="M297.50 822.10L291.98 818.09L294.09 811.61L300.91 811.61L303.02 818.09Z"/>
<path d="M303.73 836.80L298.22 832.79L300.32 826.31L307.14 826.31L309.25 832.79Z"/>
<path d="M309.97 789.00L304.45 784.99L306.56 778.51L313.38 778.51L315.48 784.99Z"/>
<path d="M316.20 742.50L310.68 738.49L312.79 732.01L319.61 732.01L321.72 738.49Z"/>
<path d="M322.43 779.80L316.92 775.79L319.02 769.31L325.84 769.31L327.95 775.79Z"/>
<path d="M328.67 783.10L323.15 779.09L325.26 772.61L332.08 772.61L334.18 779.09Z"/>
<path d="M334.90 769.10L329.38 765.09L331.49 758.61L338.31 758.61L340.42 765.09Z"/>
<path d="M341.13 759.10L335.62 755.09L337.72 748.61L344.54 748.61L346.65 755.09Z"/>
<path d="M347.37 784.50L341.85 780.49L343.96 774.01L350.78 774.01L352.88 780.49Z"/>
<path d="M353.60 627.50L348.08 623.49L350.19 617.01L357.01 617.01L359.12 623.49Z"/>
<path d="M359.83 554.10L354.32 550.09L356.42 543.61L363.24 543.61L365.35 550.09Z"/>
<path d="M366.07 637.50L360.55 633.49L362.66 627.01L369.48 627.01L371.58 633.49Z"/>
<path d="M372.30 610.10L366.78 606.09L368.89 599.61L375.71 599.61L377.82 606.09Z"/>
<path d="M378.53 671.30L373.02 667.29L375.12 660.81L381.94 660.81L384.05 667.29Z"/>
<path d="M384.77 679.80L379.25 675.79L381.36 669.31L388.18 669.31L390.28 675.79Z"/>
<path d="M391.00 749.10L385.48 745.09L387.59 738.61L394.41 738.61L396.52 745.09Z"/>
<path d="M397.23 730.50L391.72 726.49L393.82 720.01L400.64 720.01L402.75 726.49Z"/>
<path d="M403.47 808.00L397.95 803.99L400.06 797.51L406.88 797.51L408.98 803.99Z"/>
<path d="M409.70 704.50L404.18 700.49L406.29 694.01L413.11 694.01L415.22 700.49Z"/>
<path d="M415.93 788.50L410.42 784.49L412.52 778.01L419.34 778.01L421.45 784.49Z"/>
<path d="M422.17 739.10L416.65 735.09L418.76 728.61L425.58 728.61L427.68 735.09Z"/>
<path d="M428.40 785.10L422.88 781.09L424.99 774.61L431.81 774.61L433.92 781.09Z"/>
<path d="M434.63 811.80L429.12 807.79L431.22 801.31L438.04 801.31L440.15 807.79Z"/>
<path d="M440.87 824.50L435.35 820.49L437.46 814.01L444.28 814.01L446.38 820.49Z"/>
<path d="M447.10 820.50L441.58 816.49L443.69 810.01L450.51 810.01L452.62 816.49Z"/>
<path d="M453.33 813.80L447.82 809.79L449.92 803.31L456.74 803.31L458.85 809.79Z"/>
<path d="M459.57 801.80L454.05 797.79L456.16 791.31L462.98 791.31L465.08 797.79Z"/>
<path d="M465.80 777.10L460.28 773.09L462.39 766.61L469.21 766.61L471.32 773.09Z"/>
<path d="M472.03 794.50L466.52 790.49L468.62 784.01L475.44 784.01L477.55 790.49Z"/>
<path d="M478.27 815.80L472.75 811.79L474.86 805.31L481.68 805.31L483.78 811.79Z"/>
<path d="M484.50 821.10L478.98 817.09L481.09 810.61L487.91 810.61L490.02 817.09Z"/>
<path d="M490.73 828.50L485.22 824.49L487.32 818.01L494.14 818.01L496.25 824.49Z"/>
<path d="M496.97 835.80L491.45 831.79L493.56 825.31L500.38 825.31L502.48 831.79Z"/>
<path d="M503.20 835.80L497.68 831.79L499.79 825.31L506.61 825.31L508.72 831.79Z"/>
<path d="M509.43 841.80L503.92 837.79L506.02 831.31L512.84 831.31L514.95 837.79Z"/>
<path d="M515.67 848.50L510.15 844.49L512.26 838.01L519.08 838.01L521.18 844.49Z"/>
<path d="M521.90 849.10L516.38 845.09L518.49 838.61L525.31 838.61L527.42 845.09Z"/>
<path d="M528.13 844.50L522.62 840.49L524.72 834.01L531.54 834.01L533.65 840.49Z"/>
<path d="M534.37 843.10L528.85 839.09L530.96 832.61L537.78 832.61L539.88 839.09Z"/>
<path d="M540.60 834.50L535.08 830.49L537.19 824.01L544.01 824.01L546.12 830.49Z"/>
<path d="M546.83 836.10L541.32 832.09L543.42 825.61L550.24 825.61L552.35 832.09Z"/>
<path d="M553.07 841.10L547.55 837.09L549.66 830.61L556.48 830.61L558.58 837.09Z"/>
<path d="M559.30 852.50L553.78 848.49L555.89 842.01L562.71 842.01L564.82 848.49Z"/>
<path d="M565.53 853.80L560.02 849.79L562.12 843.31L568.94 843.31L571.05 849.79Z"/>
<path d="M571.77 851.10L566.25 847.09L568.36 840.61L575.18 840.61L577.28 847.09Z"/>
<path d="M578.00 852.50L572.48 848.49L574.59 842.01L581.41 842.01L583.52 848.49Z"/>
<path d="M584.23 857.80L578.72 853.79L580.82 847.31L587.64 847.31L589.75 853.79Z"/>
<path d="M590.47 863.10L584.95 859.09L587.06 852.61L593.88 852.61L595.98 859.09Z"/>
<path d="M596.70 854.50L591.18 850.49L593.29 844.01L600.11 844.01L602.22 850.49Z"/>
<path d="M602.93 830.80L597.42 826.79L599.52 820.31L606.34 820.31L608.45 826.79Z"/>
<path d="M609.17 869.80L603.65 865.79L605.76 859.31L612.58 859.31L614.68 865.79Z"/>
<path d="M615.40 890.50L609.88 886.49L611.99 880.01L618.81 880.01L620.92 886.49Z"/>
<path d="M621.63 875.10L616.12 871.09L618.22 864.61L625.04 864.61L627.15 871.09Z"/>
<path d="M627.87 877.80L622.35 873.79L624.46 867.31L631.28 867.31L633.38 873.79Z"/>
<path d="M634.10 855.80L628.58 851.79L630.69 845.31L637.51 845.31L639.62 851.79Z"/>
<path d="M640.33 851.10L634.82 847.09L636.92 840.61L643.74 840.61L645.85 847.09Z"/>
<path d="M646.57 848.50L641.05 844.49L643.16 838.01L649.98 838.01L652.08 844.49Z"/>
<path d="M652.80 845.10L647.28 841.09L649.39 834.61L656.21 834.61L658.32 841.09Z"/>
<path d="M659.03 848.50L653.52 844.49L655.62 838.01L662.44 838.01L664.55 844.49Z"/>
<path d="M665.27 847.10L659.75 843.09L661.86 836.61L668.68 836.61L670.78 843.09Z"/>
<path d="M671.50 843.10L665.98 839.09L668.09 832.61L674.91 832.61L677.02 839.09Z"/>
<path d="M677.73 853.80L672.22 849.79L674.32 843.31L681.14 843.31L683.25 849.79Z"/>
<path d="M683.97 874.50L678.45 870.49L680.56 864.01L687.38 864.01L689.48 870.49Z"/>
<path d="M690.20 880.50L684.68 876.49L686.79 870.01L693.61 870.01L695.72 876.49Z"/>
<path d="M696.43 866.50L690.92 862.49L693.02 856.01L699.84 856.01L701.95 862.49Z"/>
<path d="M702.67 863.10L697.15 859.09L699.26 852.61L706.08 852.61L708.18 859.09Z"/>
<path d="M708.90 861.80L703.38 857.79L705.49 851.31L712.31 851.31L714.42 857.79Z"/>
<path d="M715.13 856.50L709.62 852.49L711.72 846.01L718.54 846.01L720.65 852.49Z"/>
<path d="M721.37 862.50L715.85 858.49L717.96 852.01L724.78 852.01L726.88 858.49Z"/>
<path d="M727.60 865.80L722.08 861.79L724.19 855.31L731.01 855.31L733.12 861.79Z"/>
<path d="M733.83 866.50L728.32 862.49L730.42 856.01L737.24 856.01L739.35 862.49Z"/>
<path d="M740.07 869.10L734.55 865.09L736.66 858.61L743.48 858.61L745.58 865.09Z"/>
<path d="M746.30 869.10L740.78 865.09L742.89 858.61L749.71 858.61L751.82 865.09Z"/>
<path d="M752.53 876.50L747.02 872.49L749.12 866.01L755.94 866.01L758.05 872.49Z"/>
<path d="M758.77 881.80L753.25 877.79L755.36 871.31L762.18 871.31L764.28 877.79Z"/>
<path d="M765.00 876.50L759.48 872.49L761.59 866.01L768.41 866.01L770.52 872.49Z"/>
<path d="M771.23 873.80L765.72 869.79L767.82 863.31L774.64 863.31L776.75 869.79Z"/>
<path d="M777.47 880.50L771.95 876.49L774.06 870.01L780.88 870.01L782.98 876.49Z"/>
<path d="M783.70 878.50L778.18 874.49L780.29 868.01L787.11 868.01L789.22 874.49Z"/>
<path d="M789.93 870.50L784.42 866.49L786.52 860.01L793.34 860.01L795.45 866.49Z"/>
<path d="M796.17 861.10L790.65 857.09L792.76 850.61L799.58 850.61L801.68 857.09Z"/>
<path d="M802.40 854.50L796.88 850.49L798.99 844.01L805.81 844.01L807.92 850.49Z"/>
<path d="M808.63 851.10L803.12 847.09L805.22 840.61L812.04 840.61L814.15 847.09Z"/>
<path d="M814.87 841.10L809.35 837.09L811.46 830.61L818.28 830.61L820.38 837.09Z"/>
<path d="M821.10 845.80L815.58 841.79L817.69 835.31L824.51 835.31L826.62 841.79Z"/>
<path d="M827.33 840.50L821.82 836.49L823.92 830.01L830.74 830.01L832.85 836.49Z"/>
<path d="M833.57 849.10L828.05 845.09L830.16 838.61L836.98 838.61L839.08 845.09Z"/>
<path d="M839.80 855.80L834.28 851.79L836.39 845.31L843.21 845.31L845.32 851.79Z"/>
<path d="M846.03 851.10L840.52 847.09L842.62 840.61L849.44 840.61L851.55 847.09Z"/>
<path d="M852.27 854.50L846.75 850.49L848.86 844.01L855.68 844.01L857.78 850.49Z"/>
<path d="M858.50 855.10L852.98 851.09L855.09 844.61L861.91 844.61L864.02 851.09Z"/>
<path d="M864.73 855.80L859.22 851.79L861.32 845.31L868.14 845.31L870.25 851.79Z"/>
<path d="M870.97 858.50L865.45 854.49L867.56 848.01L874.38 848.01L876.48 854.49Z"/>
<path d="M877.20 861.10L871.68 857.09L873.79 850.61L880.61 850.61L882.72 857.09Z"/>
<path d="M883.43 861.10L877.92 857.09L880.02 850.61L886.84 850.61L888.95 857.09Z"/>
<path d="M889.67 861.10L884.15 857.09L886.26 850.61L893.08 850.61L895.18 857.09Z"/>
<path d="M895.90 858.50L890.38 854.49L892.49 848.01L899.31 848.01L901.42 854.49Z"/>
<path d="M902.13 851.80L896.62 847.79L898.72 841.31L905.54 841.31L907.65 847.79Z"/>
<path d="M908.37 863.10L902.85 859.09L904.96 852.61L911.78 852.61L913.88 859.09Z"/>
<path d="M914.60 875.80L909.08 871.79L911.19 865.31L918.01 865.31L920.12 871.79Z"/>
<path d="M920.83 875.80L915.32 871.79L917.42 865.31L924.24 865.31L926.35 871.79Z"/>
<path d="M927.07 861.10L921.55 857.09L923.66 850.61L930.48 850.61L932.58 857.09Z"/>
<path d="M933.30 851.10L927.78 847.09L929.89 840.61L936.71 840.61L938.82 847.09Z"/>
<path d="M939.53 843.10L934.02 839.09L936.12 832.61L942.94 832.61L945.05 839.09Z"/>
<path d="M945.77 843.10L940.25 839.09L942.36 832.61L949.18 832.61L951.28 839.09Z"/>
<path d="M952.00 843.10L946.48 839.09L948.59 832.61L955.41 832.61L957.52 839.09Z"/>
<path d="M958.23 835.10L952.72 831.09L954.82 824.61L961.64 824.61L963.75 831.09Z"/>
<path d="M964.47 828.50L958.95 824.49L961.06 818.01L967.88 818.01L969.98 824.49Z"/>
<path d="M983.17 855.40L977.65 851.39L979.76 844.91L986.58 844.91L988.68 851.39Z"/>
<path d="M1001.87 843.30L996.35 839.29L998.46 832.81L1005.28 832.81L1007.38 839.29Z"/>
<path d="M1020.57 859.10L1015.05 855.09L1017.16 848.61L1023.98 848.61L1026.08 855.09Z"/>
<path d="M1039.27 859.10L1033.75 855.09L1035.86 848.61L1042.68 848.61L1044.78 855.09Z"/>
<path d="M1057.97 865.80L1052.45 861.79L1054.56 855.31L1061.38 855.31L1063.48 861.79Z"/>
<path d="M1076.67 868.50L1071.15 864.49L1073.26 858.01L1080.08 858.01L1082.18 864.49Z"/>
<path d="M1095.37 846.30L1089.85 842.29L1091.96 835.81L1098.78 835.81L1100.88 842.29Z"/>
<path d="M1114.07 837.10L1108.55 833.09L1110.66 826.61L1117.48 826.61L1119.58 833.09Z"/>
<path d="M1132.77 850.50L1127.25 846.49L1129.36 840.01L1136.18 840.01L1138.28 846.49Z"/>
<path d="M1151.47 855.10L1145.95 851.09L1148.06 844.61L1154.88 844.61L1156.98 851.09Z"/>
<path d="M1170.17 858.50L1164.65 854.49L1166.76 848.01L1173.58 848.01L1175.68 854.49Z"/>
<path d="M1188.87 861.50L1183.35 857.49L1185.46 851.01L1192.28 851.01L1194.38 857.49Z"/>
<path d="M1207.57 869.10L1202.05 865.09L1204.16 858.61L1210.98 858.61L1213.08 865.09Z"/>
<path d="M1226.27 831.40L1220.75 827.39L1222.86 820.91L1229.68 820.91L1231.78 827.39Z"/>
<path d="M1244.97 789.10L1239.45 785.09L1241.56 778.61L1248.38 778.61L1250.48 785.09Z"/>
<path d="M1263.67 787.10L1258.15 783.09L1260.26 776.61L1267.08 776.61L1269.18 783.09Z"/>
<path d="M1282.37 828.50L1276.85 824.49L1278.96 818.01L1285.78 818.01L1287.88 824.49Z"/>
<path d="M1301.07 833.10L1295.55 829.09L1297.66 822.61L1304.48 822.61L1306.58 829.09Z"/>
<path d="M1319.77 839.80L1314.25 835.79L1316.36 829.31L1323.18 829.31L1325.28 835.79Z"/>
<path d="M1338.47 860.80L1332.95 856.79L1335.06 850.31L1341.88 850.31L1343.98 856.79Z"/>
<path d="M1357.17 873.80L1351.65 869.79L1353.76 863.31L1360.58 863.31L1362.68 869.79Z"/>
<path d="M1375.87 811.10L1370.35 807.09L1372.46 800.61L1379.28 800.61L1381.38 807.09Z"/>
<path d="M1394.57 763.80L1389.05 759.79L1391.16 753.31L1397.98 753.31L1400.08 759.79Z"/>
<path d="M1413.27 781.10L1407.75 777.09L1409.86 770.61L1416.68 770.61L1418.78 777.09Z"/>
<path d="M1431.97 763.80L1426.45 759.79L1428.56 753.31L1435.38 753.31L1437.48 759.79Z"/>
<path d="M1450.67 837.10L1445.15 833.09L1447.26 826.61L1454.08 826.61L1456.18 833.09Z"/>
</g>
<g fill="none" stroke="#ffa500" stroke-width="1.1">
<path d="M217.50 619.70h10.4M222.70 614.50v10.4M217.50 614.50l10.4 10.4M217.50 624.90l10.4 -10.4"/>
<path d="M223.73 648.00h10.4M228.93 642.80v10.4M223.73 642.80l10.4 10.4M223.73 653.20l10.4 -10.4"/>
<path d="M229.97 677.30h10.4M235.17 672.10v10.4M229.97 672.10l10.4 10.4M229.97 682.50l10.4 -10.4"/>
<path d="M236.20 698.30h10.4M241.40 693.10v10.4M236.20 693.10l10.4 10.4M236.20 703.50l10.4 -10.4"/>
<path d="M242.43 722.40h10.4M247.63 717.20v10.4M242.43 717.20l10.4 10.4M242.43 727.60l10.4 -10.4"/>
<path d="M248.67 748.30h10.4M253.87 743.10v10.4M248.67 743.10l10.4 10.4M248.67 753.50l10.4 -10.4"/>
<path d="M254.90 761.30h10.4M260.10 756.10v10.4M254.90 756.10l10.4 10.4M254.90 766.50l10.4 -10.4"/>
<path d="M261.13 774.00h10.4M266.33 768.80v10.4M261.13 768.80l10.4 10.4M261.13 779.20l10.4 -10.4"/>
<path d="M267.37 782.70h10.4M272.57 777.50v10.4M267.37 777.50l10.4 10.4M267.37 787.90l10.4 -10.4"/>
<path d="M273.60 782.70h10.4M278.80 777.50v10.4M273.60 777.50l10.4 10.4M273.60 787.90l10.4 -10.4"/>
<path d="M279.83 782.70h10.4M285.03 777.50v10.4M279.83 777.50l10.4 10.4M279.83 787.90l10.4 -10.4"/>
<path d="M286.07 782.70h10.4M291.27 777.50v10.4M286.07 777.50l10.4 10.4M286.07 787.90l10.4 -10.4"/>
<path d="M292.30 774.70h10.4M297.50 769.50v10.4M292.30 769.50l10.4 10.4M292.30 779.90l10.4 -10.4"/>
<path d="M298.53 770.00h10.4M303.73 764.80v10.4M298.53 764.80l10.4 10.4M298.53 775.20l10.4 -10.4"/>
<path d="M304.77 760.30h10.4M309.97 755.10v10.4M304.77 755.10l10.4 10.4M304.77 765.50l10.4 -10.4"/>
<path d="M311.00 727.30h10.4M316.20 722.10v10.4M311.00 722.10l10.4 10.4M311.00 732.50l10.4 -10.4"/>
<path d="M317.23 690.40h10.4M322.43 685.20v10.4M317.23 685.20l10.4 10.4M317.23 695.60l10.4 -10.4"/>
<path d="M323.47 670.00h10.4M328.67 664.80v10.4M323.47 664.80l10.4 10.4M323.47 675.20l10.4 -10.4"/>
<path d="M329.70 639.70h10.4M334.90 634.50v10.4M329.70 634.50l10.4 10.4M329.70 644.90l10.4 -10.4"/>
<path d="M335.93 618.30h10.4M341.13 613.10v10.4M335.93 613.10l10.4 10.4M335.93 623.50l10.4 -10.4"/>
<path d="M342.17 615.00h10.4M347.37 609.80v10.4M342.17 609.80l10.4 10.4M342.17 620.20l10.4 -10.4"/>
<path d="M348.40 608.00h10.4M353.60 602.80v10.4M348.40 602.80l10.4 10.4M348.40 613.20l10.4 -10.4"/>
<path d="M354.63 602.30h10.4M359.83 597.10v10.4M354.63 597.10l10.4 10.4M354.63 607.50l10.4 -10.4"/>
<path d="M360.87 605.40h10.4M366.07 600.20v10.4M360.87 600.20l10.4 10.4M360.87 610.60l10.4 -10.4"/>
<path d="M367.10 607.00h10.4M372.30 601.80v10.4M367.10 601.80l10.4 10.4M367.10 612.20l10.4 -10.4"/>
<path d="M373.33 627.00h10.4M378.53 621.80v10.4M373.33 621.80l10.4 10.4M373.33 632.20l10.4 -10.4"/>
<path d="M379.57 654.30h10.4M384.77 649.10v10.4M379.57 649.10l10.4 10.4M379.57 659.50l10.4 -10.4"/>
<path d="M385.80 670.00h10.4M391.00 664.80v10.4M385.80 664.80l10.4 10.4M385.80 675.20l10.4 -10.4"/>
<path d="M392.03 691.30h10.4M397.23 686.10v10.4M392.03 686.10l10.4 10.4M392.03 696.50l10.4 -10.4"/>
<path d="M398.27 712.70h10.4M403.47 707.50v10.4M398.27 707.50l10.4 10.4M398.27 717.90l10.4 -10.4"/>
<path d="M404.50 716.00h10.4M409.70 710.80v10.4M404.50 710.80l10.4 10.4M404.50 721.20l10.4 -10.4"/>
<path d="M410.73 722.00h10.4M415.93 716.80v10.4M410.73 716.80l10.4 10.4M410.73 727.20l10.4 -10.4"/>
<path d="M416.97 726.00h10.4M422.17 720.80v10.4M416.97 720.80l10.4 10.4M416.97 731.20l10.4 -10.4"/>
<path d="M423.20 735.30h10.4M428.40 730.10v10.4M423.20 730.10l10.4 10.4M423.20 740.50l10.4 -10.4"/>
<path d="M429.43 738.00h10.4M434.63 732.80v10.4M429.43 732.80l10.4 10.4M429.43 743.20l10.4 -10.4"/>
<path d="M435.67 740.00h10.4M440.87 734.80v10.4M435.67 734.80l10.4 10.4M435.67 745.20l10.4 -10.4"/>
<path d="M454.37 732.00h10.4M459.57 726.80v10.4M454.37 726.80l10.4 10.4M454.37 737.20l10.4 -10.4"/>
<path d="M473.07 700.00h10.4M478.27 694.80v10.4M473.07 694.80l10.4 10.4M473.07 705.20l10.4 -10.4"/>
<path d="M491.77 694.00h10.4M496.97 688.80v10.4M491.77 688.80l10.4 10.4M491.77 699.20l10.4 -10.4"/>
<path d="M510.47 700.30h10.4M515.67 695.10v10.4M510.47 695.10l10.4 10.4M510.47 705.50l10.4 -10.4"/>
<path d="M529.17 775.30h10.4M534.37 770.10v10.4M529.17 770.10l10.4 10.4M529.17 780.50l10.4 -10.4"/>
<path d="M547.87 827.30h10.4M553.07 822.10v10.4M547.87 822.10l10.4 10.4M547.87 832.50l10.4 -10.4"/>
<path d="M566.57 848.00h10.4M571.77 842.80v10.4M566.57 842.80l10.4 10.4M566.57 853.20l10.4 -10.4"/>
<path d="M585.27 860.00h10.4M590.47 854.80v10.4M585.27 854.80l10.4 10.4M585.27 865.20l10.4 -10.4"/>
<path d="M603.97 869.30h10.4M609.17 864.10v10.4M603.97 864.10l10.4 10.4M603.97 874.50l10.4 -10.4"/>
<path d="M622.67 822.00h10.4M627.87 816.80v10.4M622.67 816.80l10.4 10.4M622.67 827.20l10.4 -10.4"/>
<path d="M641.37 765.30h10.4M646.57 760.10v10.4M641.37 760.10l10.4 10.4M641.37 770.50l10.4 -10.4"/>
<path d="M660.07 737.30h10.4M665.27 732.10v10.4M660.07 732.10l10.4 10.4M660.07 742.50l10.4 -10.4"/>
<path d="M678.77 802.30h10.4M683.97 797.10v10.4M678.77 797.10l10.4 10.4M678.77 807.50l10.4 -10.4"/>
<path d="M697.47 851.30h10.4M702.67 846.10v10.4M697.47 846.10l10.4 10.4M697.47 856.50l10.4 -10.4"/>
<path d="M716.17 859.30h10.4M721.37 854.10v10.4M716.17 854.10l10.4 10.4M716.17 864.50l10.4 -10.4"/>
<path d="M734.87 861.30h10.4M740.07 856.10v10.4M734.87 856.10l10.4 10.4M734.87 866.50l10.4 -10.4"/>
<path d="M753.57 848.00h10.4M758.77 842.80v10.4M753.57 842.80l10.4 10.4M753.57 853.20l10.4 -10.4"/>
<path d="M772.27 793.30h10.4M777.47 788.10v10.4M772.27 788.10l10.4 10.4M772.27 798.50l10.4 -10.4"/>
<path d="M790.97 759.30h10.4M796.17 754.10v10.4M790.97 754.10l10.4 10.4M790.97 764.50l10.4 -10.4"/>
<path d="M809.67 742.40h10.4M814.87 737.20v10.4M809.67 737.20l10.4 10.4M809.67 747.60l10.4 -10.4"/>
<path d="M828.37 793.30h10.4M833.57 788.10v10.4M828.37 788.10l10.4 10.4M828.37 798.50l10.4 -10.4"/>
<path d="M847.07 837.30h10.4M852.27 832.10v10.4M847.07 832.10l10.4 10.4M847.07 842.50l10.4 -10.4"/>
<path d="M865.77 850.00h10.4M870.97 844.80v10.4M865.77 844.80l10.4 10.4M865.77 855.20l10.4 -10.4"/>
<path d="M884.47 855.30h10.4M889.67 850.10v10.4M884.47 850.10l10.4 10.4M884.47 860.50l10.4 -10.4"/>
<path d="M903.17 847.30h10.4M908.37 842.10v10.4M903.17 842.10l10.4 10.4M903.17 852.50l10.4 -10.4"/>
<path d="M921.87 772.00h10.4M927.07 766.80v10.4M921.87 766.80l10.4 10.4M921.87 777.20l10.4 -10.4"/>
<path d="M940.57 729.50h10.4M945.77 724.30v10.4M940.57 724.30l10.4 10.4M940.57 734.70l10.4 -10.4"/>
<path d="M959.27 709.30h10.4M964.47 704.10v10.4M959.27 704.10l10.4 10.4M959.27 714.50l10.4 -10.4"/>
<path d="M977.97 762.40h10.4M983.17 757.20v10.4M977.97 757.20l10.4 10.4M977.97 767.60l10.4 -10.4"/>
<path d="M996.67 816.50h10.4M1001.87 811.30v10.4M996.67 811.30l10.4 10.4M996.67 821.70l10.4 -10.4"/>
<path d="M1015.37 838.50h10.4M1020.57 833.30v10.4M1015.37 833.30l10.4 10.4M1015.37 843.70l10.4 -10.4"/>
<path d="M1034.07 848.20h10.4M1039.27 843.00v10.4M1034.07 843.00l10.4 10.4M1034.07 853.40l10.4 -10.4"/>
<path d="M1052.77 836.70h10.4M1057.97 831.50v10.4M1052.77 831.50l10.4 10.4M1052.77 841.90l10.4 -10.4"/>
<path d="M1071.47 768.70h10.4M1076.67 763.50v10.4M1071.47 763.50l10.4 10.4M1071.47 773.90l10.4 -10.4"/>
<path d="M1090.17 723.60h10.4M1095.37 718.40v10.4M1090.17 718.40l10.4 10.4M1090.17 728.80l10.4 -10.4"/>
<path d="M1108.87 705.30h10.4M1114.07 700.10v10.4M1108.87 700.10l10.4 10.4M1108.87 710.50l10.4 -10.4"/>
<path d="M1127.57 762.40h10.4M1132.77 757.20v10.4M1127.57 757.20l10.4 10.4M1127.57 767.60l10.4 -10.4"/>
<path d="M1146.27 825.30h10.4M1151.47 820.10v10.4M1146.27 820.10l10.4 10.4M1146.27 830.50l10.4 -10.4"/>
<path d="M1164.97 841.30h10.4M1170.17 836.10v10.4M1164.97 836.10l10.4 10.4M1164.97 846.50l10.4 -10.4"/>
<path d="M1183.67 850.40h10.4M1188.87 845.20v10.4M1183.67 845.20l10.4 10.4M1183.67 855.60l10.4 -10.4"/>
<path d="M1202.37 845.30h10.4M1207.57 840.10v10.4M1202.37 840.10l10.4 10.4M1202.37 850.50l10.4 -10.4"/>
<path d="M1221.07 786.40h10.4M1226.27 781.20v10.4M1221.07 781.20l10.4 10.4M1221.07 791.60l10.4 -10.4"/>
<path d="M1239.77 747.30h10.4M1244.97 742.10v10.4M1239.77 742.10l10.4 10.4M1239.77 752.50l10.4 -10.4"/>
<path d="M1258.47 724.20h10.4M1263.67 719.00v10.4M1258.47 719.00l10.4 10.4M1258.47 729.40l10.4 -10.4"/>
<path d="M1277.17 779.30h10.4M1282.37 774.10v10.4M1277.17 774.10l10.4 10.4M1277.17 784.50l10.4 -10.4"/>
<path d="M1295.87 827.30h10.4M1301.07 822.10v10.4M1295.87 822.10l10.4 10.4M1295.87 832.50l10.4 -10.4"/>
<path d="M1314.57 844.20h10.4M1319.77 839.00v10.4M1314.57 839.00l10.4 10.4M1314.57 849.40l10.4 -10.4"/>
<path d="M1333.27 850.40h10.4M1338.47 845.20v10.4M1333.27 845.20l10.4 10.4M1333.27 855.60l10.4 -10.4"/>
<path d="M1351.97 839.30h10.4M1357.17 834.10v10.4M1351.97 834.10l10.4 10.4M1351.97 844.50l10.4 -10.4"/>
<path d="M1370.67 791.30h10.4M1375.87 786.10v10.4M1370.67 786.10l10.4 10.4M1370.67 796.50l10.4 -10.4"/>
<path d="M1389.37 756.70h10.4M1394.57 751.50v10.4M1389.37 751.50l10.4 10.4M1389.37 761.90l10.4 -10.4"/>
<path d="M1408.07 740.70h10.4M1413.27 735.50v10.4M1408.07 735.50l10.4 10.4M1408.07 745.90l10.4 -10.4"/>
<path d="M1445.47 831.30h10.4M1450.67 826.10v10.4M1445.47 826.10l10.4 10.4M1445.47 836.50l10.4 -10.4"/>
</g>
<g stroke="#000" stroke-width="1.1" fill="none">
<path d="M110.5 98.5H1457.5V894.5H110.5Z"/>
<path d="M110.5 795.5h13M1457.5 795.5h-13M110.5 695.5h13M1457.5 695.5h-13M110.5 596.5h13M1457.5 596.5h-13M110.5 496.5h13M1457.5 496.5h-13M110.5 397.5h13M1457.5 397.5h-13M110.5 297.5h13M1457.5 297.5h-13M110.5 198.5h13M1457.5 198.5h-13M259.5 894.5v-13M259.5 98.5v13M409.5 894.5v-13M409.5 98.5v13M559.5 894.5v-13M559.5 98.5v13M708.5 894.5v-13M708.5 98.5v13M858.5 894.5v-13M858.5 98.5v13M1008.5 894.5v-13M1008.5 98.5v13M1157.5 894.5v-13M1157.5 98.5v13M1307.5 894.5v-13M1307.5 98.5v13"/>
</g>
<g fill="#0000cd"><rect x="1390.00" y="123.00" width="9" height="9"/></g>
<text x="1346.5" y="137.1" font-size="24" text-anchor="end" textLength="82" lengthAdjust="spacingAndGlyphs">ECMWF</text>
<g fill="#006400"><circle cx="1394.50" cy="160.33" r="5.5"/></g>
<text x="1346.5" y="169.9" font-size="24" text-anchor="end" textLength="62" lengthAdjust="spacingAndGlyphs">HRRR</text>
<g fill="#ff0000"><path d="M1394.50 187.06L1400.20 197.66H1388.80Z"/></g>
<text x="1346.5" y="202.8" font-size="24" text-anchor="end" textLength="115" lengthAdjust="spacingAndGlyphs">NAM 3 km</text>
<g fill="#000000"><path d="M1394.50 232.09L1400.20 221.69H1388.80Z"/></g>
<text x="1346.5" y="235.6" font-size="24" text-anchor="end" textLength="128" lengthAdjust="spacingAndGlyphs">NAM 12 km</text>
<g fill="#c0c0c0"><path d="M1394.50 253.22L1400.10 258.82L1394.50 264.42L1388.90 258.82Z"/></g>
<text x="1346.5" y="268.4" font-size="24" text-anchor="end" textLength="118" lengthAdjust="spacingAndGlyphs">GFS 0.125°</text>
<g fill="#87ceeb"><path d="M1394.50 297.45L1388.98 293.44L1391.09 286.96L1397.91 286.96L1400.02 293.44Z"/></g>
<text x="1346.5" y="301.2" font-size="24" text-anchor="end" textLength="118" lengthAdjust="spacingAndGlyphs">GFS 0.250°</text>
<g fill="none" stroke="#ffa500" stroke-width="1.1"><path d="M1389.30 324.48h10.4M1394.50 319.28v10.4M1389.30 319.28l10.4 10.4M1389.30 329.68l10.4 -10.4"/></g>
<text x="1346.5" y="334.1" font-size="24" text-anchor="end" textLength="53" lengthAdjust="spacingAndGlyphs">NBM</text>
</svg></body></html>
